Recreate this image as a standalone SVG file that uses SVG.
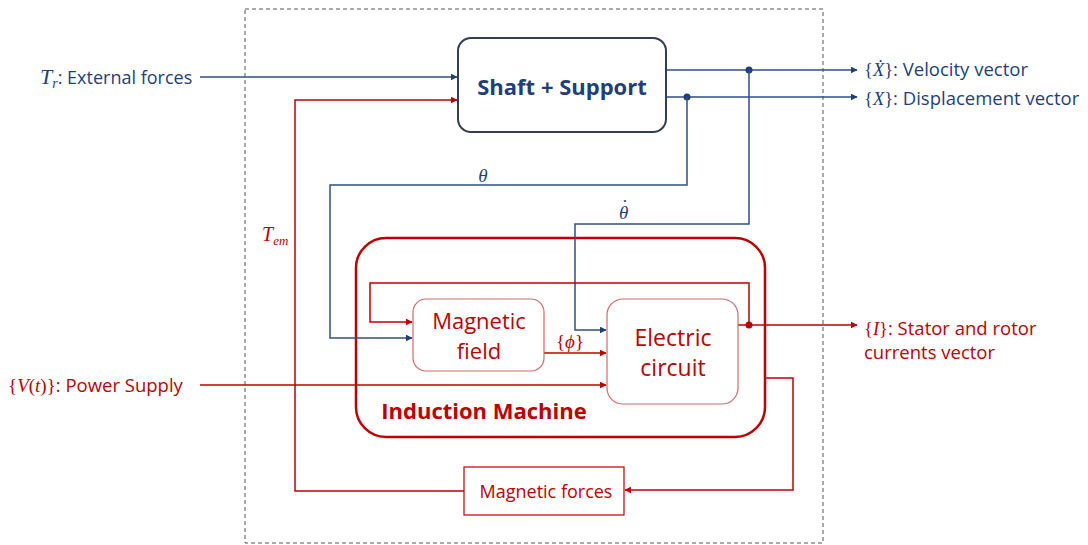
<svg xmlns="http://www.w3.org/2000/svg" width="1088" height="545" viewBox="0 0 1088 545">
<style>
.sans{font-family:"Open Sans","Liberation Sans",sans-serif}
.math{font-family:"Liberation Serif","DejaVu Serif",serif;font-style:italic}
.br{font-family:"Liberation Serif","DejaVu Serif",serif;font-style:normal}
.navy{fill:#1f3f7a}
.red{fill:#c00000}
.nl{stroke:#2f4f86;stroke-width:1.5;fill:none}
.rl{stroke:#c00000;stroke-width:1.5;fill:none}
</style>
<defs>
<marker id="an" viewBox="0 0 10 10" refX="9" refY="5" markerWidth="7" markerHeight="7" orient="auto" markerUnits="userSpaceOnUse"><path d="M0,0 L10,5 L0,10 z" fill="#1f3f7a"/></marker>
<marker id="ar" viewBox="0 0 10 10" refX="9" refY="5" markerWidth="7" markerHeight="7" orient="auto" markerUnits="userSpaceOnUse"><path d="M0,0 L10,5 L0,10 z" fill="#c00000"/></marker>
</defs>
<rect width="1088" height="545" fill="#fff"/>
<rect x="245" y="9" width="578" height="534" fill="none" stroke="#555" stroke-width="1" stroke-dasharray="4,3"/>

<g id="induction-machine">
<rect x="356" y="238" width="409" height="199" rx="30" fill="none" stroke="#c00000" stroke-width="2.5"/>
<text x="484" y="419" text-anchor="middle" class="sans red" font-size="22" font-weight="bold">Induction Machine</text>
</g>

<g id="connectors">
<path class="nl" d="M200,77 H457" marker-end="url(#an)"/>
<path class="rl" d="M464,491 H295 V100 H457" marker-end="url(#ar)"/>
<path class="nl" d="M666,70 H857" marker-end="url(#an)"/>
<path class="nl" d="M666,97 H857" marker-end="url(#an)"/>
<circle cx="749" cy="70" r="3.5" fill="#1f3f7a"/>
<circle cx="687" cy="97" r="3.5" fill="#1f3f7a"/>
<path class="nl" d="M687,97 V185 H330 V338 H412" marker-end="url(#an)"/>
<path class="nl" d="M749,70 V224 H575 V330 H606" marker-end="url(#an)"/>
<path class="rl" d="M749,325 V283 H370 V322 H412" marker-end="url(#ar)"/>
<path class="rl" d="M544,353 H606" marker-end="url(#ar)"/>
<path class="rl" d="M200,385 H606" marker-end="url(#ar)"/>
<path class="rl" d="M738,325 H857" marker-end="url(#ar)"/>
<circle cx="749" cy="325" r="3.5" fill="#c00000"/>
<path class="rl" d="M765,378 H793 V490 H625" marker-end="url(#ar)"/>
</g>

<g id="shaft-support">
<rect x="458" y="38" width="208" height="94" rx="13" fill="#fff" stroke="#333f50" stroke-width="2"/>
<text x="562" y="95" text-anchor="middle" class="sans navy" font-size="22" font-weight="bold">Shaft + Support</text>
</g>

<g id="magnetic-field">
<rect x="413" y="299" width="131" height="72" rx="13" fill="#fff" stroke="#d46a6a" stroke-width="1.2"/>
<text x="479" y="329" text-anchor="middle" class="sans red" font-size="22">Magnetic</text>
<text x="479" y="359" text-anchor="middle" class="sans red" font-size="22">field</text>
</g>

<g id="electric-circuit">
<rect x="607" y="299" width="131" height="105" rx="16" fill="#fff" stroke="#d46a6a" stroke-width="1.2"/>
<text x="673" y="346" text-anchor="middle" class="sans red" font-size="23">Electric</text>
<text x="673" y="376" text-anchor="middle" class="sans red" font-size="23">circuit</text>
</g>

<g id="magnetic-forces">
<rect x="464" y="467" width="160" height="48" fill="#fff" stroke="#c00000" stroke-width="1.2"/>
<text x="546" y="498" text-anchor="middle" class="sans red" font-size="18">Magnetic forces</text>
</g>

<g id="labels">
<text x="40" y="84" class="navy" font-size="18"><tspan class="math" font-size="22">T</tspan><tspan class="math" font-size="14" dy="4">r</tspan><tspan class="sans" dy="-4">: External forces</tspan></text>
<text x="864" y="76" class="navy" font-size="18.5"><tspan class="br">{</tspan><tspan class="math">Ẋ</tspan><tspan class="br">}</tspan><tspan class="sans">: Velocity vector</tspan></text>
<text x="864" y="105" class="navy" font-size="18.5"><tspan class="br">{</tspan><tspan class="math">X</tspan><tspan class="br">}</tspan><tspan class="sans">: Displacement vector</tspan></text>
<text x="483" y="182" text-anchor="middle" class="math navy" font-size="19">θ</text>
<text x="619" y="219" class="navy" font-size="19"><tspan class="math">θ</tspan><tspan class="br" dx="-6.5" dy="-6">˙</tspan></text>
<text x="262" y="241" class="red"><tspan class="math" font-size="20">T</tspan><tspan class="math" font-size="13" dy="4">em</tspan></text>
<text x="570" y="348" text-anchor="middle" class="red" font-size="19"><tspan class="br">{</tspan><tspan class="math">ϕ</tspan><tspan class="br">}</tspan></text>
<text x="8" y="392" class="red" font-size="19"><tspan class="br">{</tspan><tspan class="math">V</tspan><tspan class="br">(</tspan><tspan class="math">t</tspan><tspan class="br">)}</tspan><tspan class="sans" font-size="18.5">: Power Supply</tspan></text>
<text x="864" y="335" class="red" font-size="18.5"><tspan class="br">{</tspan><tspan class="math">I</tspan><tspan class="br">}</tspan><tspan class="sans">: Stator and rotor</tspan></text>
<text x="864" y="359" class="sans red" font-size="18.5">currents vector</text>
</g>
</svg>
